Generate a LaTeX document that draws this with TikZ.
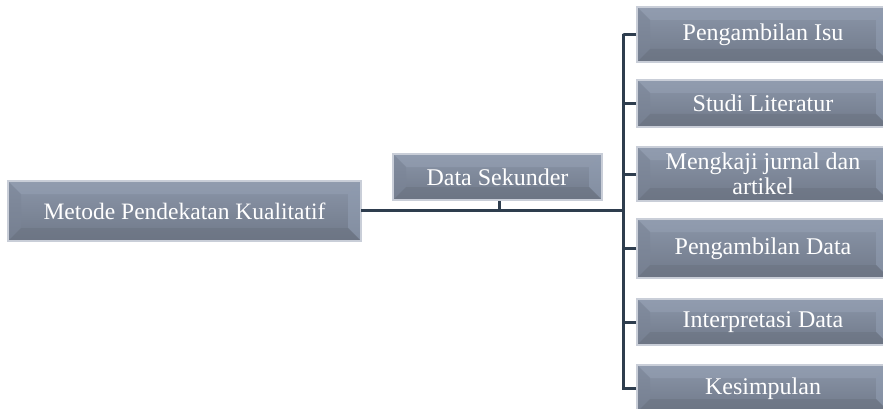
\documentclass[tikz,border=0pt]{standalone}
\usepackage{fontspec}
\setmainfont{Liberation Serif}
\usetikzlibrary{calc}
\definecolor{edgec}{HTML}{C9CED8}
\definecolor{facetop}{HTML}{8B96A9}
\definecolor{facebot}{HTML}{707989}
\definecolor{bevtop}{HTML}{97A2B5}
\definecolor{bevleft}{HTML}{7B8597}
\definecolor{bevright}{HTML}{95A2B7}
\definecolor{bevbot}{HTML}{6A7280}
\definecolor{linec}{HTML}{2E3D4E}
\newcommand{\bw}{13pt}
\tikzset{
  bev/.style={draw=edgec, line width=2pt, text=white, inner sep=0pt, align=center,
    font=\fontsize{24}{25}\selectfont,
    top color=facetop, bottom color=facebot,
    path picture={
      \coordinate (pnw) at (path picture bounding box.north west);
      \coordinate (pne) at (path picture bounding box.north east);
      \coordinate (psw) at (path picture bounding box.south west);
      \coordinate (pse) at (path picture bounding box.south east);
      \fill[bevtop, opacity=0.5] (pnw) -- (pne) -- ($(pne)+(-\bw,-\bw)$) -- ($(pnw)+(\bw,-\bw)$) -- cycle;
      \fill[bevleft, opacity=0.5] (pnw) -- ($(pnw)+(\bw,-\bw)$) -- ($(psw)+(\bw,\bw)$) -- (psw) -- cycle;
      \fill[bevright, opacity=0.5] (pne) -- ($(pne)+(-\bw,-\bw)$) -- ($(pse)+(-\bw,\bw)$) -- (pse) -- cycle;
      \fill[bevbot, opacity=0.5] (psw) -- ($(psw)+(\bw,\bw)$) -- ($(pse)+(-\bw,\bw)$) -- (pse) -- cycle;
    }},
  conn/.style={draw=linec, line width=3pt},
}
\newcommand{\bbox}[7]{% name, x1, y1, x2, y2, text, extra
  \node[bev, minimum width={#4-#2}, minimum height={#5-#3}, #7] (#1) at ({(#2+#4)/2},{-(#3+#5)/2}) {#6};}
\begin{document}
\begin{tikzpicture}[x=1pt,y=1pt]
  \useasboundingbox (0,0) rectangle (883,-409);
  \clip (0,0) rectangle (883,-409);
  \bbox{main}{8}{181}{361}{241}{Metode Pendekatan Kualitatif}{font=\fontsize{23.5}{26}\selectfont}
  \bbox{ds}{393}{154}{602}{200}{Data Sekunder}{}
  \bbox{r1}{637}{7}{889}{62}{Pengambilan Isu}{}
  \bbox{r2}{637}{80}{889}{127}{Studi Literatur}{}
  \bbox{r3}{637}{147}{889}{201}{Mengkaji jurnal dan\\artikel}{}
  \bbox{r4}{637}{219}{889}{278}{Pengambilan Data}{}
  \bbox{r5}{637}{299}{889}{345}{Interpretasi Data}{}
  \bbox{r6}{637}{365}{889}{412}{Kesimpulan}{}
  \coordinate (jmain) at (623,-210.5);
  \coordinate (jds) at (499,-210.5);
  \draw[conn] (main.east) -- (main.east |- jmain) -- (jmain);
  \draw[conn] (ds.south -| jds) -- (jds);
  \draw[conn] (r1.west) -| (623,-34) |- (r6.west);
  \foreach \n in {r2,r3,r4,r5} \draw[conn] (\n.west) -- (\n.west -| jmain);
\end{tikzpicture}
\end{document}
